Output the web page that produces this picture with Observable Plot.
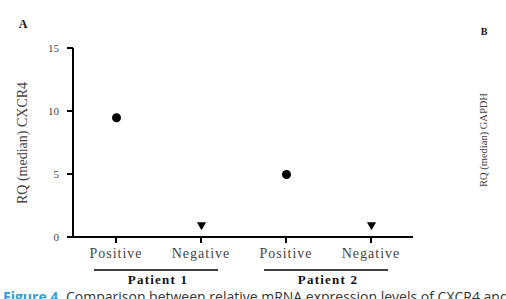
<!DOCTYPE html>
<html><head><meta charset="utf-8">
<script src="https://cdn.jsdelivr.net/npm/d3@7"></script>
<script src="https://cdn.jsdelivr.net/npm/@observablehq/plot@0.6"></script>
<style>
body{margin:0;background:#fff;width:506px;height:299px;overflow:hidden;position:relative}
#chart svg{display:block}
#cap{position:absolute;left:3px;top:290px;width:503px;height:9px;overflow:hidden;font:14px "Open Sans",sans-serif;color:#333;white-space:nowrap;line-height:1}
#cap b{color:#2b9fd9}
</style></head><body><div id="chart"></div><div id="cap"><b>Figure 4.</b> Comparison between relative mRNA expression levels of CXCR4 and GAPDH</div>
<script>
const categories = ["Positive","Negative","Positive","Negative"];
const patients = ["Patient 1","Patient 1","Patient 2","Patient 2"];
const rqValues = [9.5, 1.0, 5.0, 1.0];
const yTicks = [0, 5, 10, 15];
const panelLabels = ["A", "B"];
const yLabel = "RQ (median) CXCR4";
const yLabelB = "RQ (median) GAPDH";

const W = 506, H = 299, ML = 73, MR = 93, MT = 48, MB = 62;
const SERIF = "'Liberation Serif', serif";

const data = categories.map((c, i) => ({key: i, cat: c, patient: patients[i], value: rqValues[i]}));
const patientNames = [...new Set(patients)];

function axesAndLabels(index, scales) {
  const x = scales.x, y = scales.y;
  const g = d3.create("svg:g").attr("font-family", SERIF);
  // axis lines
  g.append("path").attr("d", `M${ML},${y(15)}V${y(0)}`).attr("stroke", "black").attr("stroke-width", 2);
  g.append("path").attr("d", `M${ML},${y(0)}H${W - MR}`).attr("stroke", "black").attr("stroke-width", 2);
  // x ticks and labels
  for (const d of data) {
    g.append("path").attr("d", `M${x(d.key)},${y(0)}v6`).attr("stroke", "black").attr("stroke-width", 2);
    g.append("text").attr("x", x(d.key)).attr("y", 258).attr("text-anchor", "middle")
      .attr("font-size", 14).attr("letter-spacing", 1).attr("fill", "#444").text(d.cat);
  }
  // y ticks and labels
  for (const t of yTicks) {
    g.append("path").attr("d", `M${ML},${y(t)}h-6`).attr("stroke", "black").attr("stroke-width", 2);
    g.append("text").attr("x", ML - 14).attr("y", y(t)).attr("dy", "0.32em").attr("text-anchor", "end")
      .attr("font-size", 11).attr("fill", "#444").text(t);
  }
  // patient group lines
  for (const p of patientNames) {
    const ks = data.filter(d => d.patient === p).map(d => x(d.key));
    const x1 = Math.min(...ks) - 22, x2 = Math.max(...ks) + 17;
    g.append("path").attr("d", `M${x1},270H${x2}`).attr("stroke", "black").attr("stroke-width", 1.6);
    g.append("text").attr("x", (x1 + x2) / 2 + 2).attr("y", 284).attr("text-anchor", "middle")
      .attr("font-weight", "bold").attr("font-size", 13).attr("letter-spacing", 1.2)
      .attr("fill", "#111").text(p);
  }
  // panel labels
  g.append("text").attr("x", 23).attr("y", 28).attr("text-anchor", "middle")
    .attr("font-weight", "bold").attr("font-size", 12).attr("fill", "#111").text(panelLabels[0]);
  g.append("text").attr("x", 484).attr("y", 35).attr("text-anchor", "middle")
    .attr("font-weight", "bold").attr("font-size", 10).attr("fill", "#111").text(panelLabels[1]);
  // y labels
  g.append("text").attr("transform", "translate(27,143) rotate(-90)").attr("text-anchor", "middle")
    .attr("font-size", 14).attr("fill", "#444").text(yLabel);
  g.append("text").attr("transform", "translate(487,140) rotate(-90)").attr("text-anchor", "middle")
    .attr("font-size", 10.5).attr("fill", "#444").text(yLabelB);
  return g.node();
}

const chart = Plot.plot({
  width: W,
  height: H,
  marginLeft: ML,
  marginRight: MR,
  marginTop: MT,
  marginBottom: MB,
  x: {type: "point", domain: data.map(d => d.key), padding: 0.5, axis: null},
  y: {domain: [0, 15], axis: null},
  marks: [
    Plot.dot(data.filter(d => d.cat === "Positive"), {x: "key", y: "value", r: 4.5, fill: "black", symbol: "circle"}),
    Plot.dot(data.filter(d => d.cat === "Negative"), {x: "key", y: "value", r: 3.4, fill: "black", symbol: "triangle", rotate: 180}),
    axesAndLabels
  ]
});
document.getElementById("chart").append(chart);
</script>
</body></html>
